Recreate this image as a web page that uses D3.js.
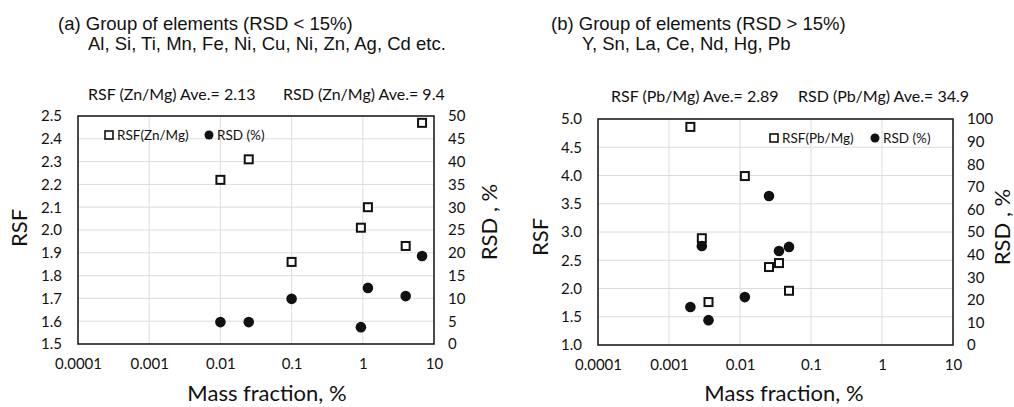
<!DOCTYPE html>
<html>
<head>
<meta charset="utf-8">
<script src="https://cdn.jsdelivr.net/npm/d3@7"></script>
<style>
  body { margin: 0; background: #fff; }
  svg { display: block; }
  .title { font-family: "Liberation Sans", Arial, sans-serif; font-size: 18.5px; fill: #111; }
  .sub { font-family: Lato, "Open Sans", sans-serif; font-size: 16px; fill: #111; }
  .tick text { font-family: Lato, "Open Sans", sans-serif; font-size: 15px; fill: #111; }
  .axis-title { font-family: Lato, "Open Sans", sans-serif; font-size: 22px; fill: #111; }
  .legend text { font-family: Lato, "Open Sans", sans-serif; font-size: 13.5px; fill: #111; }
  .grid line { stroke: #dcdcdc; stroke-width: 1; }
</style>
</head>
<body>
<div id="chart"></div>
<script>
// shared x axis ticks (mass fraction, %)
const xTicks = [0.0001, 0.001, 0.01, 0.1, 1, 10];

// panel (a) Zn/Mg group
const aMass = [0.01, 0.025, 0.1, 0.94, 1.18, 4.0, 6.8];
const aRSF = [2.22, 2.31, 1.86, 2.01, 2.10, 1.93, 2.47];
const aRSD = [4.8, 4.8, 9.9, 3.7, 12.3, 10.5, 19.3];
const aRsfTicks = [1.5, 1.6, 1.7, 1.8, 1.9, 2.0, 2.1, 2.2, 2.3, 2.4, 2.5];
const aRsdTicks = [0, 5, 10, 15, 20, 25, 30, 35, 40, 45, 50];

// panel (b) Pb/Mg group
const bMass = [0.002, 0.0029, 0.0036, 0.0117, 0.0256, 0.0354, 0.049];
const bRSF = [4.86, 2.89, 1.76, 3.99, 2.38, 2.45, 1.96];
const bRSD = [16.8, 43.8, 11.0, 21.2, 65.9, 41.6, 43.4];
const bRsfTicks = [1.0, 1.5, 2.0, 2.5, 3.0, 3.5, 4.0, 4.5, 5.0];
const bRsdTicks = [0, 10, 20, 30, 40, 50, 60, 70, 80, 90, 100];

const W = 1014, H = 407;
const svg = d3.select('#chart').append('svg')
  .attr('width', W).attr('height', H);

const panels = [
  {
    left: 78, top: 116, right: 434, bottom: 344,
    titleX: 58, title: '(a) Group of elements (RSD < 15%)',
    line2X: 88, line2: 'Al, Si, Ti, Mn, Fe, Ni, Cu, Ni, Zn, Ag, Cd etc.',
    sub1X: 88, sub1: 'RSF (Zn/Mg) Ave.= 2.13',
    sub2X: 283, sub2: 'RSD (Zn/Mg) Ave.= 9.4', subY: 100,
    mass: aMass, rsf: aRSF, rsd: aRSD,
    rsfTicks: aRsfTicks, rsdTicks: aRsdTicks, rsfFmt: d3.format('.1f'),
    legendX: 109, legendY: 135, legend1: 'RSF(Zn/Mg)', legendGap: 100,
    rsfLabel: [19, 228], rsdLabel: [489, 222], massLabelX: 267
  },
  {
    left: 598, top: 119, right: 953, bottom: 345,
    titleX: 551, title: '(b) Group of elements (RSD > 15%)',
    line2X: 582, line2: 'Y, Sn, La, Ce, Nd, Hg, Pb',
    sub1X: 611, sub1: 'RSF (Pb/Mg) Ave.= 2.89',
    sub2X: 798, sub2: 'RSD (Pb/Mg) Ave.= 34.9', subY: 102,
    mass: bMass, rsf: bRSF, rsd: bRSD,
    rsfTicks: bRsfTicks, rsdTicks: bRsdTicks, rsfFmt: d3.format('.1f'),
    legendX: 774, legendY: 138, legend1: 'RSF(Pb/Mg)', legendGap: 101,
    rsfLabel: [540, 237], rsdLabel: [1002, 227], massLabelX: 784
  }
];

panels.forEach(drawPanel);

function drawPanel(p) {
  const x = d3.scaleLog().domain([0.0001, 10]).range([p.left, p.right]);
  const yL = d3.scaleLinear().domain(d3.extent(p.rsfTicks)).range([p.bottom, p.top]);
  const yR = d3.scaleLinear().domain(d3.extent(p.rsdTicks)).range([p.bottom, p.top]);

  // titles
  svg.append('text').attr('class', 'title').attr('x', p.titleX).attr('y', 30).text(p.title);
  svg.append('text').attr('class', 'title').attr('x', p.line2X).attr('y', 50).text(p.line2);
  svg.append('text').attr('class', 'sub').attr('x', p.sub1X).attr('y', p.subY).text(p.sub1);
  svg.append('text').attr('class', 'sub').attr('x', p.sub2X).attr('y', p.subY).text(p.sub2);

  // grid
  const grid = svg.append('g').attr('class', 'grid');
  grid.selectAll('.gh').data(p.rsfTicks).enter().append('line')
    .attr('x1', p.left).attr('x2', p.right)
    .attr('y1', d => yL(d)).attr('y2', d => yL(d));
  grid.selectAll('.gv').data(xTicks).enter().append('line')
    .attr('x1', d => x(d)).attr('x2', d => x(d))
    .attr('y1', p.top).attr('y2', p.bottom);

  // axes (labels only, frame drawn separately)
  const axL = svg.append('g')
    .attr('transform', `translate(${p.left},0)`)
    .call(d3.axisLeft(yL).tickValues(p.rsfTicks).tickFormat(p.rsfFmt).tickSize(0).tickPadding(16));
  const axR = svg.append('g')
    .attr('transform', `translate(${p.right},0)`)
    .call(d3.axisRight(yR).tickValues(p.rsdTicks).tickFormat(d3.format('d')).tickSize(0).tickPadding(14));
  const axB = svg.append('g')
    .attr('transform', `translate(0,${p.bottom})`)
    .call(d3.axisBottom(x).tickValues(xTicks).tickFormat(d => String(d)).tickSize(0).tickPadding(14));
  [axL, axR, axB].forEach(a => a.select('.domain').remove());

  // frame
  svg.append('rect')
    .attr('x', p.left).attr('y', p.top)
    .attr('width', p.right - p.left).attr('height', p.bottom - p.top)
    .attr('fill', 'none').attr('stroke', '#222').attr('stroke-width', 1.6);

  // axis titles
  svg.append('text').attr('class', 'axis-title')
    .attr('transform', `translate(${p.rsfLabel[0]},${p.rsfLabel[1]}) rotate(-90)`)
    .attr('text-anchor', 'middle').attr('dy', '0.35em').text('RSF');
  svg.append('text').attr('class', 'axis-title')
    .attr('transform', `translate(${p.rsdLabel[0]},${p.rsdLabel[1]}) rotate(-90)`)
    .attr('text-anchor', 'middle').attr('dy', '0.35em').text('RSD , %');
  svg.append('text').attr('class', 'axis-title')
    .attr('x', p.massLabelX).attr('y', 401)
    .attr('text-anchor', 'middle').text('Mass fraction, %');

  // RSF squares
  const pts = p.mass.map((m, i) => ({m, rsf: p.rsf[i], rsd: p.rsd[i]}));
  svg.append('g').selectAll('rect').data(pts).enter().append('rect')
    .attr('x', d => x(d.m) - 4).attr('y', d => yL(d.rsf) - 4)
    .attr('width', 8).attr('height', 8)
    .attr('fill', '#fff').attr('stroke', '#111').attr('stroke-width', 2);

  // RSD circles
  svg.append('g').selectAll('circle').data(pts).enter().append('circle')
    .attr('cx', d => x(d.m)).attr('cy', d => yR(d.rsd))
    .attr('r', 5.3).attr('fill', '#111');

  // legend
  const lg = svg.append('g').attr('class', 'legend')
    .attr('transform', `translate(${p.legendX},${p.legendY})`);
  lg.append('rect').attr('x', -4).attr('y', -4).attr('width', 8).attr('height', 8)
    .attr('fill', '#fff').attr('stroke', '#111').attr('stroke-width', 1.6);
  lg.append('text').attr('x', 8).attr('dy', '0.35em').text(p.legend1);
  lg.append('circle').attr('cx', p.legendGap).attr('r', 4.5).attr('fill', '#111');
  lg.append('text').attr('x', p.legendGap + 8).attr('dy', '0.35em').text('RSD (%)');
}
</script>
</body>
</html>
